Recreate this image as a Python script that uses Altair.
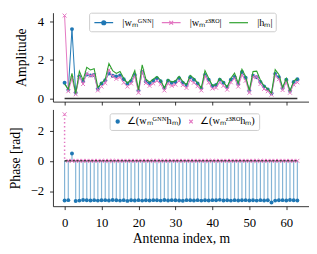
import altair as alt
import pandas as pd

antenna = list(range(64))

h_amp = [0.75, 0.48, 1.30, 0.25, 1.42, 0.95, 1.62, 1.48, 1.55, 0.58,
         0.80, 1.00, 1.82, 1.45, 1.30, 1.40, 1.05, 0.80, 1.00, 1.45,
         0.45, 1.75, 1.00, 0.85, 1.00, 1.15, 0.95, 0.55, 1.00, 0.85,
         0.92, 1.15, 0.88, 0.72, 1.20, 1.05, 0.82, 0.55, 1.45, 1.05,
         0.68, 0.72, 1.05, 0.85, 0.60, 1.05, 1.32, 0.80, 1.52, 1.15,
         0.42, 1.40, 1.42, 0.95, 0.65, 0.50, 0.28, 1.50, 1.25, 0.58,
         1.05, 0.40, 0.90, 1.05]

gnn_amp = [0.82, 0.45, 3.60, 0.30, 1.15, 0.90, 1.25, 1.20, 1.22, 0.50,
           0.78, 0.95, 1.30, 1.18, 1.15, 1.20, 1.00, 0.78, 0.90, 1.22,
           0.42, 1.38, 0.88, 0.78, 0.92, 1.05, 0.90, 0.55, 0.92, 0.82,
           0.86, 1.06, 0.82, 0.70, 1.10, 0.97, 0.78, 0.55, 1.22, 0.98,
           0.65, 0.70, 0.98, 0.82, 0.60, 0.98, 1.12, 0.75, 1.38, 1.08,
           0.40, 1.18, 1.10, 0.86, 0.63, 0.47, 0.27, 1.28, 1.10, 0.55,
           0.97, 0.39, 0.86, 1.00]

z3ro_amp = [4.30, 0.38, 1.05, 0.22, 1.12, 0.75, 1.30, 1.18, 1.22, 0.42,
            0.62, 0.80, 1.48, 1.15, 1.02, 1.10, 0.82, 0.62, 0.78, 1.15,
            0.30, 1.40, 0.80, 0.66, 0.78, 0.92, 0.75, 0.42, 0.78, 0.66,
            0.72, 0.92, 0.70, 0.55, 0.95, 0.82, 0.64, 0.42, 1.16, 0.82,
            0.52, 0.56, 0.84, 0.66, 0.46, 0.84, 1.05, 0.62, 1.22, 0.92,
            0.30, 1.12, 1.12, 0.75, 0.50, 0.38, 0.20, 1.20, 1.00, 0.44,
            0.84, 0.30, 0.72, 0.84]

gnn_phase = [-2.62, -2.60, 0.49, -2.66, -2.63, -2.59, -2.61, -2.62, -2.60, -2.63,
             -2.61, -2.60, -2.62, -2.59, -2.61, -2.63, -2.60, -2.65, -2.61, -2.62,
             -2.60, -2.63, -2.61, -2.62, -2.60, -2.61, -2.63, -2.59, -2.62, -2.60,
             -2.61, -2.62, -2.64, -2.60, -2.61, -2.62, -2.60, -2.63, -2.61, -2.62,
             -2.60, -2.61, -2.58, -2.62, -2.61, -2.63, -2.60, -2.62, -2.61, -2.60,
             -2.62, -2.61, -2.63, -2.60, -2.62, -2.61, -2.76, -2.63, -2.61, -2.60,
             -2.62, -2.59, -2.61, -2.62]

z3ro_phase = [3.08, 0.0, 0.0, 0.0, 0.0, 0.0, 0.0, 0.0, 0.0, 0.0,
              0.0, 0.0, 0.0, 0.0, 0.0, 0.0, 0.0, 0.0, 0.0, 0.0,
              0.0, 0.0, 0.0, 0.0, 0.0, 0.0, 0.0, 0.0, 0.0, 0.0,
              0.0, 0.0, 0.0, 0.0, 0.0, 0.0, 0.0, 0.0, 0.0, 0.0,
              0.0, 0.0, 0.0, 0.0, 0.0, 0.0, 0.0, 0.0, 0.0, 0.0,
              0.0, 0.0, 0.0, 0.0, 0.0, 0.0, 0.0, 0.0, 0.0, 0.0,
              0.0, 0.0, 0.0, 0.0]

amp_labels = ["|wₘᴳᴺᴺ|", "|wₘᶻ³ᴿᴼ|", "|hₘ|"]
phase_labels = ["∠(wₘᴳᴺᴺhₘ)", "∠(wₘᶻ³ᴿᴼhₘ)"]
x_ticks = [0, 10, 20, 30, 40, 50, 60]
amp_ticks = [0, 2, 4]
phase_ticks = [-2, 0, 2]

BLUE = "#1f77b4"
PINK = "#e377c2"
GREEN = "#2ca02c"
FONT = "Liberation Serif"
W = 262
XMARK = "M-1,-1L1,1M-1,1L1,-1"


def circ(r):
    return f"M-{r},0A{r},{r},0,1,1,{r},0A{r},{r},0,1,1,-{r},0"


amp_paths = ["M-1.6,0H1.6" + circ(0.34) + circ(0.22) + circ(0.1),
             "M-1.6,0H1.6M-0.32,-0.32L0.32,0.32M-0.32,0.32L0.32,-0.32",
             "M-1.6,0H1.6"]
phase_paths = [circ(0.55) + circ(0.4) + circ(0.2),
               "M-0.6,-0.6L0.6,0.6M-0.6,0.6L0.6,-0.6"]

df = pd.DataFrame({"m": antenna, "h": h_amp, "gnn": gnn_amp, "z3ro": z3ro_amp,
                   "pg": gnn_phase, "pz": z3ro_phase})

xscale = alt.Scale(domain=[-3.15, 66.15], nice=False, zero=False)
top_xaxis = alt.Axis(values=x_ticks, labels=False, title=None)
bot_xaxis = alt.Axis(values=x_ticks, title="Antenna index, m", format="d",
                     labelPadding=7, titlePadding=3)


def xenc(field, bottom):
    return alt.X(field, type="quantitative", scale=xscale,
                 axis=bot_xaxis if bottom else top_xaxis)


amp_scale = alt.Scale(domain=[-0.16, 4.45], nice=False, zero=False)
amp_axis = alt.Axis(values=amp_ticks, title="Amplitude", format="d",
                    labelPadding=6, titlePadding=9)
ph_scale = alt.Scale(domain=[-3.0, 3.4], nice=False, zero=False)
ph_axis = alt.Axis(values=phase_ticks, title="Phase [rad]", format="d",
                   labelPadding=6, titlePadding=8)


def yamp(field):
    return alt.Y(field, type="quantitative", scale=amp_scale, axis=amp_axis)


def yph(field):
    return alt.Y(field, type="quantitative", scale=ph_scale, axis=ph_axis)


def legend(x, y, size, label_offset, sym_offset):
    return alt.Legend(title=None, orient="none", legendX=x, legendY=y,
                      direction="horizontal", labelFont=FONT, labelFontSize=10.5,
                      labelColor="black", symbolSize=size, symbolStrokeWidth=1.2,
                      symbolOpacity=1, symbolOffset=sym_offset,
                      labelOffset=label_offset, columnPadding=4, padding=3,
                      fillColor="white", strokeColor="#cccccc", cornerRadius=2)


base = alt.Chart(df)

# ---------- amplitude panel ----------
zero_top = base.transform_aggregate(m0="min(m)", m1="max(m)").mark_rule(
    color="#333333", strokeWidth=1.6).encode(
    x=xenc("m0", False), x2=alt.X2("m1"), y=alt.datum(0))
gnn_line = base.mark_line(color=BLUE, strokeWidth=1).encode(x=xenc("m", False), y=yamp("gnn"))
gnn_pts = base.mark_point(color=BLUE, filled=True, size=16, opacity=1).encode(
    x=xenc("m", False), y=yamp("gnn"))
z_line = base.mark_line(color=PINK, strokeWidth=1).encode(x=xenc("m", False), y=yamp("z3ro"))
z_pts = base.mark_point(color=PINK, shape=XMARK, size=16, strokeWidth=1, opacity=1).encode(
    x=xenc("m", False), y=yamp("z3ro"))
h_line = base.mark_line(color=GREEN, strokeWidth=1.1).encode(x=xenc("m", False), y=yamp("h"))

top_leg = legend(37, 0, 144, 12, 5)
amp_leg = alt.Chart(pd.DataFrame({"series": amp_labels})).mark_point(
    opacity=0, size=144, strokeWidth=1.2, filled=False).encode(
    color=alt.Color("series:N", scale=alt.Scale(domain=amp_labels, range=[BLUE, PINK, GREEN]),
                    legend=top_leg),
    shape=alt.Shape("series:N", scale=alt.Scale(domain=amp_labels, range=amp_paths),
                    legend=top_leg))

top = alt.layer(zero_top, gnn_line, gnn_pts, z_line, z_pts, h_line, amp_leg).properties(
    width=W, height=91)

# ---------- phase panel ----------
gnn_stems = base.mark_rule(color=BLUE, opacity=0.55, strokeWidth=1.2).encode(
    x=xenc("m", True), y=yph("pg"), y2=alt.datum(0))
zero_bot = base.transform_aggregate(m0="min(m)", m1="max(m)").mark_rule(
    color="black", strokeWidth=1.2).encode(
    x=xenc("m0", True), x2=alt.X2("m1"), y=alt.datum(0))
gnn_dots = base.mark_point(color=BLUE, filled=True, size=16, opacity=1).encode(
    x=xenc("m", True), y=yph("pg"))
z_stems = base.mark_rule(color=PINK, strokeWidth=1.5, strokeDash=[1.5, 2.5]).encode(
    x=xenc("m", True), y=yph("pz"), y2=alt.datum(0))
z_dots = base.mark_point(color=PINK, shape=XMARK, size=16, strokeWidth=1, opacity=1).encode(
    x=xenc("m", True), y=yph("pz"))

bot_leg = legend(58, 4, 36, 4, 0)
ph_leg = alt.Chart(pd.DataFrame({"series": phase_labels})).mark_point(
    opacity=0, size=36, strokeWidth=1.2, filled=False).encode(
    color=alt.Color("series:N", scale=alt.Scale(domain=phase_labels, range=[BLUE, PINK]),
                    legend=bot_leg),
    shape=alt.Shape("series:N", scale=alt.Scale(domain=phase_labels, range=phase_paths),
                    legend=bot_leg))

bottom = alt.layer(gnn_stems, zero_bot, gnn_dots, z_stems, z_dots, ph_leg).properties(
    width=W, height=99)

chart = alt.vconcat(top, bottom, spacing=4).resolve_scale(
    color="independent", shape="independent").resolve_legend(
    color="independent", shape="independent").properties(padding=0).configure_axis(
    labelFont=FONT, titleFont=FONT, labelFontSize=13, titleFontSize=14,
    titleFontWeight="normal", labelColor="black", titleColor="black",
    domainColor="black", tickColor="black", domainWidth=0.8, tickWidth=0.8,
    tickSize=3.5, grid=False).configure_view(stroke=None)

chart.save("out.html", embed_options={"renderer": "svg", "actions": False})
